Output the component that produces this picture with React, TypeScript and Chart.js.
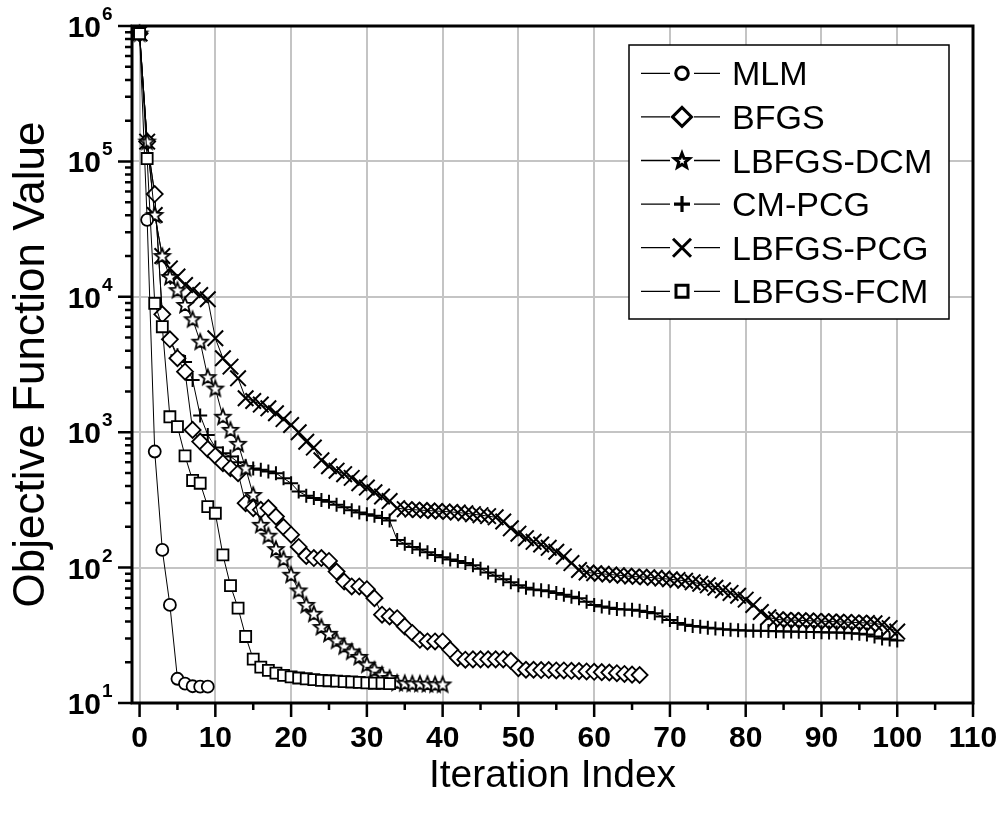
import React, { useEffect, useRef } from 'react';
import { Chart, registerables } from 'chart.js';

Chart.register(...registerables);

// ---------- data ----------
const seriesNames = ['MLM', 'BFGS', 'LBFGS-DCM', 'CM-PCG', 'LBFGS-PCG', 'LBFGS-FCM'];

const mlm = [8.8e5, 37000, 720, 135, 53, 15.1, 13.9, 13.3, 13.2, 13.2];

const bfgs = [
  8.8e5, 1.4e5, 57400, 7430, 4850, 3520, 2800, 1040, 853, 750,
  668, 590, 542, 498, 299, 275, 267, 275, 238, 199,
  175, 142, 122, 117.6, 117.6, 112, 93.5, 78.9, 72.6, 72.6,
  69.3, 59.5, 44.9, 43.6, 42.3, 36.8, 32.9, 29.3, 28.5, 28.5,
  28.5, 24.7, 21.5, 20.9, 21.0, 21.0, 21.0, 21.0, 21.0, 20.5,
  18.1, 17.6, 17.6, 17.5, 17.5, 17.4, 17.4, 17.3, 17.2, 17.1,
  17.0, 16.9, 16.8, 16.6, 16.4, 16.2, 16.1,
];

const lbfgsDcm = [
  8.8e5, 1.4e5, 40200, 20000, 14000, 11200, 8700, 6820, 4660, 2550,
  2100, 1300, 1040, 820, 542, 344, 207, 172, 137, 115.6,
  88.5, 67.8, 53, 45.6, 36.4, 32.4, 28.9, 26.2, 24.0, 21.9,
  19.2, 17.6, 16.2, 15.3, 14.1, 14.0, 13.9, 13.9, 13.8, 13.7,
  13.7,
];

const cmPcg = [
  8.8e5, 1.4e5, 57400, 7430, 4850, 3700, 3300, 2430, 1330, 955,
  770, 700, 661, 600, 560, 540, 527, 512, 498, 457,
  420, 365, 340, 326, 316, 307, 291, 279, 265, 255,
  248, 241, 232, 223, 160, 150, 142, 136, 130, 124,
  119, 115, 112, 108, 104, 98, 92, 87, 82, 78,
  74, 71, 69, 68, 67, 65, 63, 61, 59.5, 56,
  53, 51.6, 50.5, 49.5, 49, 48.9, 48, 47, 46, 43.5,
  41, 39, 37.9, 37, 36.5, 36, 35.5, 35, 34.8, 34.5,
  34.3, 34.2, 34.1, 34.0, 33.9, 33.8, 33.7, 33.6, 33.5, 33.4,
  33.3, 33.2, 33.1, 33.0, 32.8, 32.5, 32.0, 31.0, 30.0, 29.5,
  29.0,
];

const lbfgsPcg = [
  8.8e5, 1.4e5, 40200, 20000, 16200, 14100, 12200, 11200, 10300, 9600,
  4940, 3520, 3050, 2500, 1780, 1700, 1600, 1500, 1380, 1250,
  1130, 1000, 850, 770, 620, 560, 520, 490, 460, 420,
  390, 360, 335, 310, 275, 270, 268, 266, 264, 262,
  260, 258, 255, 252, 248, 244, 240, 235, 219, 195,
  178, 165, 155, 148, 140, 131, 121, 108, 96, 92,
  91, 90, 89, 88, 87, 86, 85.5, 85, 84, 83,
  82, 81, 80, 78, 76, 74, 71, 68, 65, 62,
  58, 53, 47, 43, 41.5, 41, 41, 40.8, 40.6, 40.4,
  40.2, 40, 39.8, 39.6, 39.4, 39.2, 39, 38.8, 37.8, 35.7,
  33.7,
];

const lbfgsFcm = [
  8.8e5, 1.05e5, 8950, 6010, 1300, 1100, 668, 440, 420, 282,
  252, 124, 73.5, 50.2, 31, 21.1, 18.4, 17.4, 16.6, 16.0,
  15.6, 15.3, 15.1, 14.9, 14.7, 14.6, 14.5, 14.4, 14.3, 14.2,
  14.1, 14.0, 14.0, 13.9,
];

const xTickValues = [0, 10, 20, 30, 40, 50, 60, 70, 80, 90, 100, 110];
const yExponents = [1, 2, 3, 4, 5, 6];
const xTitle = 'Iteration Index';
const yTitle = 'Objective Function Value';

// ---------- helpers ----------
const FONT = '"Liberation Sans", Arial, Helvetica, sans-serif';

function toPoints(vals: number[]) {
  return vals.map((v, i) => ({ x: i, y: v }));
}

function makeStar(outer: number, inner: number, lw: number) {
  const size = Math.ceil(2 * (outer + lw)) + 2;
  const c = document.createElement('canvas');
  c.width = size;
  c.height = size;
  const g = c.getContext('2d')!;
  g.translate(size / 2, size / 2 + 0.5);
  starPath(g, 0, 0, outer, inner);
  g.fillStyle = '#fff';
  g.fill();
  g.lineWidth = lw;
  g.lineJoin = 'miter';
  g.strokeStyle = '#000';
  g.stroke();
  return c;
}

function starPath(g: CanvasRenderingContext2D, cx: number, cy: number, outer: number, inner: number) {
  g.beginPath();
  for (let i = 0; i < 10; i++) {
    const r = i % 2 === 0 ? outer : inner;
    const a = -Math.PI / 2 + (i * Math.PI) / 5;
    const px = cx + r * Math.cos(a);
    const py = cy + r * Math.sin(a);
    if (i === 0) g.moveTo(px, py);
    else g.lineTo(px, py);
  }
  g.closePath();
}

function drawLegendMarker(g: CanvasRenderingContext2D, kind: string, cx: number, cy: number) {
  g.save();
  g.strokeStyle = '#000';
  g.fillStyle = '#fff';
  g.lineWidth = 3;
  g.beginPath();
  if (kind === 'circle') {
    g.arc(cx, cy, 6.3, 0, Math.PI * 2);
    g.fill();
    g.stroke();
  } else if (kind === 'diamond') {
    g.moveTo(cx - 9.5, cy);
    g.lineTo(cx, cy - 9.5);
    g.lineTo(cx + 9.5, cy);
    g.lineTo(cx, cy + 9.5);
    g.closePath();
    g.fill();
    g.stroke();
  } else if (kind === 'star') {
    starPath(g, cx, cy + 0.5, 7.8, 3.4);
    g.fill();
    g.stroke();
  } else if (kind === 'plus') {
    g.lineWidth = 3.2;
    g.moveTo(cx - 8, cy);
    g.lineTo(cx + 8, cy);
    g.moveTo(cx, cy - 8);
    g.lineTo(cx, cy + 8);
    g.stroke();
  } else if (kind === 'x') {
    g.lineWidth = 3;
    g.moveTo(cx - 9, cy - 9);
    g.lineTo(cx + 9, cy + 9);
    g.moveTo(cx + 9, cy - 9);
    g.lineTo(cx - 9, cy + 9);
    g.stroke();
  } else if (kind === 'square') {
    g.rect(cx - 6, cy - 6, 12, 12);
    g.fill();
    g.stroke();
  }
  g.restore();
}

const legendKinds = ['circle', 'diamond', 'star', 'plus', 'x', 'square'];

const decorPlugin = {
  id: 'decor',
  afterDraw(chart: any) {
    const { ctx: g, chartArea: a, scales } = chart;
    const xs = scales.x;
    const ys = scales.y;
    g.save();

    // frame
    g.strokeStyle = '#000';
    g.lineWidth = 3;
    g.strokeRect(a.left, a.top, a.right - a.left, a.bottom - a.top);

    // y ticks (major + minor)
    g.lineWidth = 2.5;
    g.beginPath();
    yExponents.forEach((e) => {
      const py = ys.getPixelForValue(Math.pow(10, e));
      g.moveTo(a.left - 14, py);
      g.lineTo(a.left, py);
      if (e < 6) {
        for (let k = 2; k <= 9; k++) {
          const pm = ys.getPixelForValue(k * Math.pow(10, e));
          g.moveTo(a.left - 7, pm);
          g.lineTo(a.left, pm);
        }
      }
    });
    // x ticks (major + minor)
    for (let v = 0; v <= 110; v += 5) {
      const px = xs.getPixelForValue(v);
      const len = v % 10 === 0 ? 14 : 7;
      g.moveTo(px, a.bottom);
      g.lineTo(px, a.bottom + len);
    }
    g.stroke();

    // x tick labels
    g.fillStyle = '#000';
    g.font = `bold 30px ${FONT}`;
    g.textAlign = 'center';
    g.textBaseline = 'alphabetic';
    xTickValues.forEach((v) => {
      g.fillText(String(v), xs.getPixelForValue(v), a.bottom + 44);
    });

    // y tick labels 10^n
    yExponents.forEach((e) => {
      const py = ys.getPixelForValue(Math.pow(10, e));
      g.font = `bold 30px ${FONT}`;
      g.textAlign = 'right';
      g.fillText('10', a.left - 31, py + 11);
      g.font = `bold 19px ${FONT}`;
      g.textAlign = 'left';
      g.fillText(String(e), a.left - 30, py - 6);
    });

    // axis titles
    g.font = `39px ${FONT}`;
    g.textAlign = 'center';
    g.fillText(xTitle, (a.left + a.right) / 2, 787);
    g.save();
    g.translate(44, (a.top + a.bottom) / 2);
    g.rotate(-Math.PI / 2);
    g.font = `44px ${FONT}`;
    g.fillText(yTitle, 0, 0);
    g.restore();

    // legend
    const lx = 629, ly = 45, lw = 320, lh = 274;
    g.fillStyle = '#fff';
    g.fillRect(lx, ly, lw, lh);
    g.lineWidth = 1.5;
    g.strokeStyle = '#000';
    g.strokeRect(lx, ly, lw, lh);
    seriesNames.forEach((name, i) => {
      const cy = 73.3 + i * 43.6;
      g.lineWidth = 1.3;
      g.beginPath();
      g.moveTo(641, cy);
      g.lineTo(670, cy);
      g.moveTo(694, cy);
      g.lineTo(720, cy);
      g.stroke();
      drawLegendMarker(g, legendKinds[i], 682, cy);
      g.fillStyle = '#000';
      g.font = `34px ${FONT}`;
      g.textAlign = 'left';
      g.fillText(name, 732, cy + 12);
    });

    g.restore();
  },
};

export default function App() {
  const ref = useRef<HTMLCanvasElement>(null);

  useEffect(() => {
    const canvas = ref.current;
    if (!canvas) return;
    const star = makeStar(8, 3.5, 1.8);

    const common = {
      showLine: true,
      borderColor: '#000',
      borderWidth: 1,
      pointBorderColor: '#000',
      pointBackgroundColor: '#fff',
      pointBorderWidth: 1.8,
      tension: 0,
      clip: 20,
    };

    const chart = new Chart(canvas, {
      type: 'scatter',
      data: {
        datasets: [
          { ...common, label: seriesNames[5], data: toPoints(lbfgsFcm), pointStyle: 'rect', pointRadius: 7.8 },
          { ...common, label: seriesNames[0], data: toPoints(mlm), pointStyle: 'circle', pointRadius: 6 },
          { ...common, label: seriesNames[2], data: toPoints(lbfgsDcm), pointStyle: star as any, pointRadius: 8 },
          { ...common, label: seriesNames[1], data: toPoints(bfgs), pointStyle: 'rectRot', pointRadius: 8 },
          { ...common, label: seriesNames[3], data: toPoints(cmPcg), pointStyle: 'cross', pointRadius: 7, pointBorderWidth: 2 },
          { ...common, label: seriesNames[4], data: toPoints(lbfgsPcg), pointStyle: 'crossRot', pointRadius: 11, pointBorderWidth: 2 },
        ],
      },
      options: {
        responsive: false,
        animation: false,
        devicePixelRatio: 1,
        layout: { padding: { left: 0, top: 26, right: 29, bottom: 0 } },
        plugins: { legend: { display: false }, tooltip: { enabled: false } },
        events: [],
        scales: {
          x: {
            type: 'linear',
            min: -1,
            max: 110,
            afterBuildTicks: (s: any) => {
              s.ticks = xTickValues.map((v) => ({ value: v }));
            },
            afterFit: (s: any) => {
              s.height = 112;
            },
            ticks: { display: false },
            border: { display: false },
            grid: {
              drawTicks: false,
              lineWidth: 2,
              color: (c: any) => (c.tick && c.tick.value < 110 ? '#c4c4c4' : 'rgba(0,0,0,0)'),
            },
          },
          y: {
            type: 'logarithmic',
            min: 10,
            max: 1e6,
            afterBuildTicks: (s: any) => {
              s.ticks = yExponents.map((e) => ({ value: Math.pow(10, e) }));
            },
            afterFit: (s: any) => {
              s.width = 132;
            },
            ticks: { display: false },
            border: { display: false },
            grid: {
              drawTicks: false,
              lineWidth: 2,
              color: (c: any) => (c.tick && c.tick.value > 10 && c.tick.value < 1e6 ? '#c4c4c4' : 'rgba(0,0,0,0)'),
            },
          },
        },
      },
      plugins: [decorPlugin],
    } as any);

    return () => chart.destroy();
  }, []);

  return (
    <div style={{ position: 'fixed', left: 0, top: 0, width: 1002, height: 815, background: '#fff' }}>
      <canvas ref={ref} width={1002} height={815} style={{ display: 'block', width: 1002, height: 815 }} />
    </div>
  );
}
